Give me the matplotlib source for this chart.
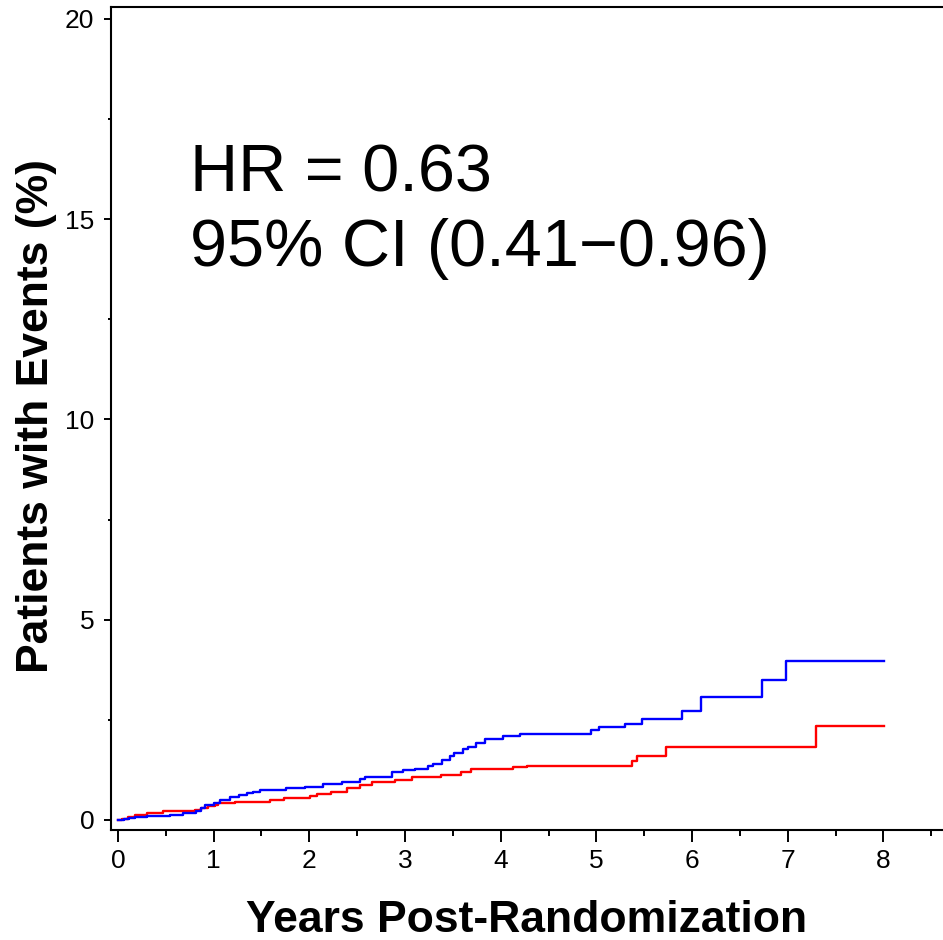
import matplotlib
matplotlib.use("Agg")
import matplotlib.pyplot as plt
from matplotlib.ticker import MultipleLocator

plt.rcParams["font.family"] = ["Liberation Sans", "DejaVu Sans"]

# cumulative event curves (years, % patients with events)
blue_t = [0, 0.06, 0.11, 0.18, 0.30, 0.54, 0.68, 0.82, 0.87, 0.91, 1.00, 1.07,
          1.17, 1.26, 1.35, 1.41, 1.48, 1.76, 1.95, 2.14, 2.34, 2.53, 2.58, 2.86,
          2.98, 3.10, 3.24, 3.29, 3.39, 3.47, 3.51, 3.61, 3.66, 3.74, 3.84, 4.02,
          4.20, 4.94, 5.03, 5.30, 5.48, 5.90, 6.09, 6.73, 6.98, 8.01]
blue_y = [0, 0.02, 0.04, 0.08, 0.10, 0.13, 0.18, 0.23, 0.29, 0.37, 0.43, 0.50,
          0.57, 0.62, 0.68, 0.71, 0.75, 0.81, 0.83, 0.91, 0.96, 1.03, 1.08, 1.20,
          1.24, 1.27, 1.36, 1.39, 1.50, 1.60, 1.66, 1.76, 1.83, 1.91, 2.02, 2.10,
          2.15, 2.24, 2.33, 2.40, 2.52, 2.73, 3.06, 3.50, 3.96, 3.96]

red_t = [0, 0.04, 0.10, 0.18, 0.30, 0.47, 0.80, 0.87, 0.94, 1.01, 1.05, 1.22,
         1.59, 1.73, 2.01, 2.08, 2.23, 2.39, 2.53, 2.65, 2.90, 3.07, 3.38, 3.59,
         3.69, 4.13, 4.27, 5.37, 5.42, 5.73, 7.30, 8.01]
red_y = [0, 0.02, 0.07, 0.12, 0.18, 0.22, 0.25, 0.29, 0.35, 0.37, 0.42, 0.46,
         0.50, 0.54, 0.60, 0.64, 0.69, 0.81, 0.87, 0.96, 1.01, 1.08, 1.12, 1.21,
         1.28, 1.33, 1.36, 1.47, 1.61, 1.82, 2.35, 2.35]

hr_lines = ["HR = 0.63", "95% CI (0.41\u22120.96)"]

fig = plt.figure(figsize=(9.43, 9.40), dpi=100)
ax = fig.add_axes([111 / 943, 110 / 940, 832 / 943, 822.7 / 940])

ax.step(red_t, red_y, where="post", color="#FF0000", lw=1.7)
ax.step(blue_t, blue_y, where="post", color="#0000FF", lw=1.7)

ax.set_xlim(-0.073, 8.623)
ax.set_ylim(-0.25, 20.29)

ax.xaxis.set_major_locator(MultipleLocator(1))
ax.xaxis.set_minor_locator(MultipleLocator(0.5))
ax.yaxis.set_major_locator(MultipleLocator(5))
ax.yaxis.set_minor_locator(MultipleLocator(2.5))

ax.spines["right"].set_visible(False)
for s in ["left", "bottom", "top"]:
    ax.spines[s].set_linewidth(1.5)

ax.tick_params(axis="x", which="major", length=8.6, width=1.4, pad=5, labelsize=19)
ax.tick_params(axis="x", which="minor", length=4.5, width=1.4)
ax.tick_params(axis="y", which="major", length=5, width=1.4, pad=7, labelsize=19)
ax.tick_params(axis="y", which="minor", length=2.5, width=1.4)

ax.text(0.75, 15.7, hr_lines[0], fontsize=48, va="baseline", ha="left")
ax.text(0.75, 13.82, hr_lines[1], fontsize=48, va="baseline", ha="left")

fig.text(527 / 943, 8 / 940, "Years Post-Randomization", fontsize=32,
         fontweight="bold", ha="center", va="baseline")
fig.text(48 / 943, 1 - 416 / 940, "Patients with Events (%)", fontsize=32,
         fontweight="bold", ha="center", va="baseline", rotation=90,
         rotation_mode="anchor")

fig.savefig("out.png", dpi=100)
